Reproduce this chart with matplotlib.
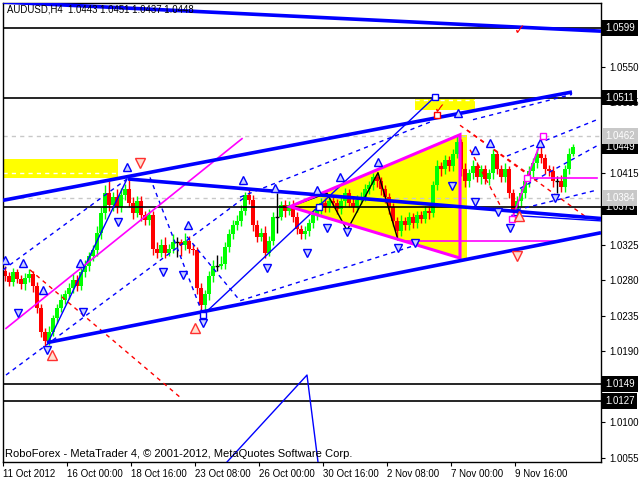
import matplotlib
matplotlib.use("Agg")
import matplotlib.pyplot as plt
from matplotlib.patches import Polygon, Rectangle

plt.rcParams['font.family'] = ['Liberation Sans', 'DejaVu Sans']

# ---------------- data: candle values in pips above 1.0000 ----------------
opens = [292,285,278,290,282,275,283,288,272,245,
         215,203,215,232,245,255,262,270,280,272,
         290,298,310,318,340,365,390,375,385,372,
         388,395,378,365,380,362,356,362,320,315,
         325,315,320,328,328,325,330,320,318,270,
         248,262,285,298,298,300,322,338,350,355,
         368,388,382,350,335,340,315,330,360,360,
         375,368,375,360,345,338,342,352,362,370,
         378,372,380,378,370,380,390,378,372,382,
         385,395,400,410,405,395,385,372,355,342,
         355,350,360,352,362,358,368,365,400,425,
         420,432,425,440,455,420,405,415,425,410,
         420,408,415,440,420,410,420,390,368,380,
         390,405,418,428,440,435,420,418,405,405,
         398,420,440]
highs = [298,290,296,294,287,289,294,292,278,250,
         220,222,236,250,262,268,276,288,286,298,
         305,316,325,348,372,400,405,392,395,396,
         402,407,385,386,386,368,370,368,328,332,
         335,326,338,334,332,340,336,326,322,276,
         268,292,305,312,310,328,345,356,362,375,
         392,394,388,356,346,348,336,366,390,380,
         381,380,382,366,350,348,357,368,376,384,
         384,386,385,383,386,396,395,384,388,392,
         402,406,416,414,410,400,390,378,360,362,
         360,366,365,368,367,374,373,406,432,430,
         438,437,446,463,458,428,420,432,430,426,
         426,420,446,444,426,428,425,395,386,396,
         410,424,434,446,452,440,426,424,412,413,
         426,447,452]
lows = [279,272,273,276,269,268,278,265,238,208,
        196,198,210,226,240,250,256,264,266,268,
        284,292,304,310,332,358,368,368,365,366,
        382,372,358,360,355,350,350,312,308,309,
        308,310,314,309,310,318,314,312,262,238,
        242,255,278,292,294,294,316,332,344,348,
        362,376,342,328,329,308,310,324,340,356,
        360,362,354,338,332,332,336,346,356,364,
        366,366,372,364,364,374,372,366,366,376,
        380,389,394,398,388,378,364,348,332,336,
        344,344,346,346,352,352,358,360,394,412,
        414,418,418,434,412,398,398,408,404,402,
        402,400,408,414,404,404,384,355,362,374,
        384,398,410,422,428,414,412,398,390,392,
        392,414,437]
closes = [285,278,290,282,275,283,288,272,245,215,
          203,215,232,245,255,262,270,280,272,290,
          298,310,318,340,365,390,375,385,372,388,
          395,378,365,380,362,356,362,320,315,325,
          315,320,328,328,325,330,320,318,270,248,
          262,285,298,298,300,322,338,350,355,368,
          388,382,350,335,340,315,330,360,360,375,
          368,375,360,345,338,342,352,362,370,378,
          372,380,378,370,380,390,378,372,382,385,
          395,400,410,405,395,385,372,355,342,355,
          350,360,352,362,358,368,365,400,425,420,
          432,425,440,455,420,405,415,425,410,420,
          408,415,440,420,410,420,390,368,380,390,
          405,418,428,440,435,420,418,405,405,398,
          420,440,449]

date_ticks = [-0.5, 15.5, 31.5, 47.5, 63.5, 79.5, 95.5, 111.5, 127.5]
date_labels = ["11 Oct 2012", "16 Oct 00:00", "18 Oct 16:00", "23 Oct 08:00",
               "26 Oct 00:00", "30 Oct 16:00", "2 Nov 08:00", "7 Nov 00:00",
               "9 Nov 16:00"]
price_ticks = [1.0055, 1.0100, 1.0145, 1.0190, 1.0235, 1.0280, 1.0325,
               1.0370, 1.0415, 1.0460, 1.0505, 1.0550, 1.0595]
price_tick_labels = ["1.0055", "1.0100", "", "1.0190", "1.0235", "1.0280", "1.0325",
                     "", "1.0415", "", "1.0505", "1.0550", ""]
level_lines = [1.0599, 1.0511, 1.0373, 1.0149, 1.0127]
black_labels = [1.0599, 1.0511, 1.0449, 1.0373, 1.0149, 1.0127]
gray_levels = [1.0462, 1.0384]
header = "AUDUSD,H4  1.0443 1.0451 1.0437 1.0448"
footer = "RoboForex - MetaTrader 4, \u00a9 2001-2012, MetaQuotes Software Corp."

# analysis objects (bar index, pips)
thick_blue = [[(-1.25, 632), (149, 595)],
              [(-0.5, 381), (141.75, 518)],
              [(10.5, 201), (149, 340)],
              [(30.75, 408), (149, 358)]]
thin_blue = [[(10.75, 201), (30.5, 408)],
             [(49.5, 236), (107.5, 512)],
             [(55.5, 50), (75.5, 160), (78.25, 50)],
             [(126.75, 362), (149, 355)]]
dashed_blue = [[(-0.5, 293), (30.5, 408)],
               [(0.25, 160), (60, 385)],
               [(36.25, 410), (49.5, 236)],
               [(45.5, 335), (58.75, 254), (103.75, 326)],
               [(58.75, 385), (106.25, 480)],
               [(117, 483), (141.75, 515)],
               [(125.5, 437), (148, 483)],
               [(128.75, 396), (148, 450)],
               [(128, 369), (148, 394)]]
red_dashed = [[(6.25, 293), (43.75, 132)],
              [(113.75, 476), (145.5, 359)],
              [(115.5, 470), (131.25, 413)],
              [(116.25, 445), (123.75, 375)]]
black_zigzag = [(71.25, 373), (80.5, 390), (85.5, 343), (93.25, 416), (98.25, 331)]
magenta_thin = [[(0.25, 219), (59.25, 459)],
                [(100.5, 330), (138, 330)],
                [(130.5, 409), (148, 409)],
                [(126.75, 357), (130.5, 409), (134.5, 462)]]
triangle = [(71.25, 373), (113.75, 464), (113.75, 308)]
yellow_boxes = [(-0.5, 409, 28.75, 24), (102.5, 495, 15, 14), (113.75, 306, 1.75, 158)]
yellow_dash = [(-0.5, 28.25, 416), (102.5, 117.5, 508)]
fract_up = [(0, 306), (4.5, 302), (9.5, 268), (18.75, 302), (30.5, 423), (45.75, 350),
            (59.5, 407), (67.5, 397), (78, 394), (83.75, 410), (93.25, 429),
            (113.25, 491), (117.5, 445), (121.25, 453), (133.75, 453)]
fract_dn = [(3.25, 238), (10.5, 192), (19.5, 240), (28.25, 353), (39.5, 290), (44.5, 287),
            (49.5, 226), (65.5, 295), (75.5, 314), (80.5, 346), (85.5, 341), (98.25, 321),
            (102.5, 327), (111.75, 399), (117.5, 379), (123.25, 366), (126.25, 346),
            (137.5, 384)]
blue_squares = [(107.5, 512), (49.5, 236), (78.5, 373)]
mag_squares = [(126.75, 357), (130.5, 409), (134.5, 462)]
red_up = [(11.75, 185), (47.5, 219), (128.5, 361)]
red_dn = [(128, 310), (33.75, 428)]
red_checks = [(128.75, 596), (108.75, 496)]
red_squares = [(108, 489)]


def P(v):
    return 1.0 + v / 10000.0


fig = plt.figure(figsize=(6.4, 4.8), dpi=100)
ax = fig.add_axes([3 / 640, 18 / 480, 598 / 640, 459 / 480])
ax.set_xlim(-0.5, 149)
ax.set_ylim(1.00500, 1.06306)

# yellow areas
for x0, y0, w, h in yellow_boxes:
    ax.add_patch(Rectangle((x0, P(y0)), w, h / 10000.0, facecolor='#ffff00',
                           edgecolor='none', zorder=0.5))
ax.add_patch(Polygon([(x, P(y)) for x, y in triangle], closed=True,
                     facecolor='#ffff00', edgecolor='none', zorder=0.5))
for x0, x1, y in yellow_dash:
    ax.plot([x0, x1], [P(y), P(y)], color='white', lw=1, ls=(0, (3, 3)), zorder=0.6)

for g in gray_levels:
    ax.axhline(g, color='#c8c8c8', lw=1, ls=(0, (3, 3)), zorder=0.7)
for lv in level_lines:
    ax.axhline(lv, color='black', lw=1.2, zorder=2.5)

# candles
for i in range(len(closes)):
    o, h, l, c = opens[i], highs[i], lows[i], closes[i]
    if c > o:
        col = '#00ff00'
    elif c < o:
        col = '#ff0000'
    else:
        col = 'black'
    ax.vlines(i, P(l), P(h), color=col, lw=1, zorder=2)
    if c == o:
        ax.hlines(P(c), i - 0.4, i + 0.4, color=col, lw=1, zorder=2)
    else:
        ax.add_patch(Rectangle((i - 0.38, P(min(o, c))), 0.76, abs(c - o) / 10000.0,
                               facecolor=col, edgecolor='none', zorder=2))

# lines
for seg in dashed_blue:
    ax.plot([s[0] for s in seg], [P(s[1]) for s in seg], color='#0000ff', lw=1,
            ls=(0, (3, 3)), zorder=2.8)
for seg in red_dashed:
    ax.plot([s[0] for s in seg], [P(s[1]) for s in seg], color='#ff0000', lw=1,
            ls=(0, (3, 3)), zorder=2.8)
for seg in thin_blue:
    ax.plot([s[0] for s in seg], [P(s[1]) for s in seg], color='#0000ff', lw=1, zorder=2.9)
ax.plot([s[0] for s in black_zigzag], [P(s[1]) for s in black_zigzag], color='black',
        lw=1, zorder=2.9)
for seg in magenta_thin:
    ax.plot([s[0] for s in seg], [P(s[1]) for s in seg], color='#ff00ff', lw=1.2, zorder=2.9)
ax.add_patch(Polygon([(x, P(y)) for x, y in triangle], closed=True, fill=False,
                     edgecolor='#ff00ff', lw=2.2, zorder=3))
for seg in thick_blue:
    ax.plot([s[0] for s in seg], [P(s[1]) for s in seg], color='#0000ff', lw=2.6,
            zorder=3.1, solid_capstyle='butt')

# markers
ax.plot([m[0] for m in fract_up], [P(m[1]) for m in fract_up], ls='none', marker='^',
        ms=6, mfc='#c8d0ff', mec='#0000ff', mew=1, zorder=4)
ax.plot([m[0] for m in fract_dn], [P(m[1]) for m in fract_dn], ls='none', marker='v',
        ms=6, mfc='#c8d0ff', mec='#0000ff', mew=1, zorder=4)
ax.plot([m[0] for m in blue_squares], [P(m[1]) for m in blue_squares], ls='none',
        marker='s', ms=4.5, mfc='white', mec='#0000ff', mew=1, zorder=4)
ax.plot([m[0] for m in mag_squares], [P(m[1]) for m in mag_squares], ls='none',
        marker='s', ms=4.5, mfc='white', mec='#ff00ff', mew=1, zorder=4)
ax.plot([m[0] for m in red_up], [P(m[1]) for m in red_up], ls='none', marker='^',
        ms=7.5, mfc='#ffe0d0', mec='#ff3030', mew=1, zorder=4)
ax.plot([m[0] for m in red_dn], [P(m[1]) for m in red_dn], ls='none', marker='v',
        ms=7.5, mfc='#ffe0d0', mec='#ff3030', mew=1, zorder=4)
ax.plot([m[0] for m in red_squares], [P(m[1]) for m in red_squares], ls='none',
        marker='s', ms=4.5, mfc='white', mec='#ff0000', mew=1, zorder=4)
for x, y in red_checks:
    ax.text(x, P(y), "\u2713", color='#ff0000', fontsize=10, ha='center', va='center',
            zorder=4, family='DejaVu Sans')

# axes styling
for sp in ax.spines.values():
    sp.set_color('black')
    sp.set_linewidth(1)
ax.yaxis.tick_right()
ax.set_yticks(price_ticks)
ax.set_yticklabels(price_tick_labels)
ax.set_xticks(date_ticks)
ax.set_xticklabels(date_labels)
for lab in ax.get_xticklabels():
    lab.set_horizontalalignment('left')
ax.tick_params(axis='y', length=3, pad=3, labelsize=7, colors='black')
ax.tick_params(axis='x', length=3, pad=2, labelsize=7, colors='black')

for lv in black_labels:
    ax.text(1.0 + 4 / 598, lv, "%.4f" % lv, transform=ax.get_yaxis_transform(),
            ha='left', va='center', fontsize=7, color='white', zorder=6, clip_on=False,
            bbox=dict(boxstyle='square,pad=0.3', fc='black', ec='none'))
for lv in gray_levels:
    ax.text(1.0 + 4 / 598, lv, "%.4f" % lv, transform=ax.get_yaxis_transform(),
            ha='left', va='center', fontsize=7, color='white', zorder=6, clip_on=False,
            bbox=dict(boxstyle='square,pad=0.3', fc='#c8c8c8', ec='none'))

fig.text(7 / 640, 1 - 10 / 480, header, fontsize=6.9, va='center', ha='left', color='black')
fig.text(5 / 640, 1 - 454 / 480, footer, fontsize=8, va='center', ha='left',
         color='black')

fig.savefig("out.png", dpi=100)
